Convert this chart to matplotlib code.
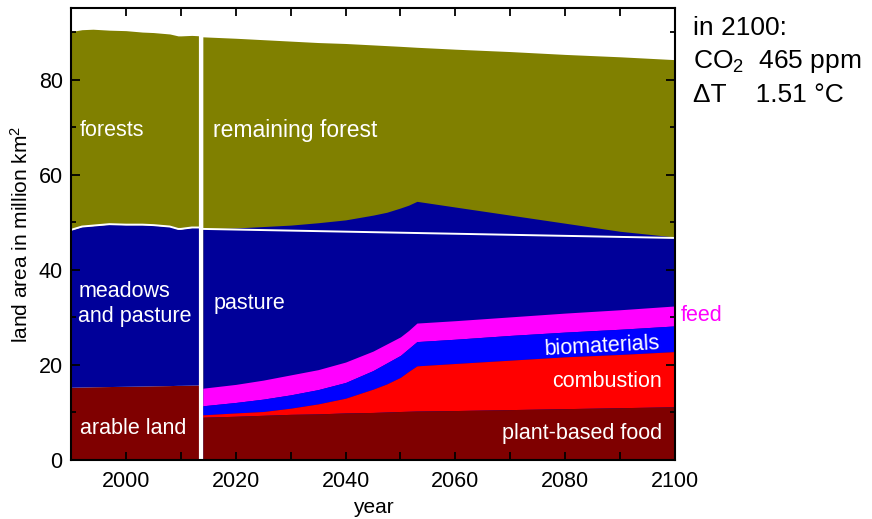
import matplotlib
matplotlib.use("Agg")
import numpy as np
import matplotlib.pyplot as plt

plt.rcParams["font.family"] = ["Liberation Sans", "DejaVu Sans"]
plt.rcParams["mathtext.fontset"] = "custom"
plt.rcParams["mathtext.rm"] = "Liberation Sans"
plt.rcParams["mathtext.it"] = "Liberation Sans:italic"

# -----------------------------
# Data (million km2)
# -----------------------------

# historical period, up to the white vertical divider
hist_years = [1990, 1992, 1994, 1997, 2000, 2003, 2005, 2008, 2009.5, 2010, 2012, 2013.7]
hist_arable = [15.3, 15.35, 15.4, 15.45, 15.5, 15.55, 15.6, 15.65, 15.7, 15.7, 15.75, 15.8]
hist_meadows_top = [48.4, 49.1, 49.3, 49.6, 49.5, 49.5, 49.4, 49.1, 48.6, 48.6, 48.9, 48.9]
hist_total = [90.1, 90.5, 90.6, 90.4, 90.3, 90.0, 89.9, 89.6, 89.2, 89.2, 89.3, 89.2]

# scenario period
fut_years = [2014, 2020, 2025, 2030, 2035, 2040, 2045, 2047.5, 2050, 2051.5, 2053,
             2060, 2070, 2080, 2090, 2100]
plant_food = [9.0, 9.2, 9.4, 9.6, 9.7, 9.9, 10.0, 10.1, 10.2, 10.25, 10.3,
              10.4, 10.6, 10.8, 11.0, 11.2]
combustion = [0.5, 0.7, 0.8, 1.3, 2.1, 3.1, 4.9, 5.9, 7.2, 8.4, 9.5,
              9.9, 10.4, 10.9, 11.2, 11.6]
biomaterials = [1.9, 2.2, 2.6, 2.8, 3.0, 3.3, 3.9, 4.4, 4.6, 4.8, 5.1,
                5.1, 5.2, 5.2, 5.3, 5.4]
feed = [3.7, 3.8, 4.0, 4.2, 4.2, 4.3, 4.1, 4.0, 3.9, 3.8, 3.9,
        3.9, 3.9, 4.0, 4.1, 4.2]
pasture_top = [48.6, 48.8, 49.1, 49.4, 49.9, 50.5, 51.5, 52.1, 53.0, 53.6, 54.4,
               53.2, 51.5, 49.8, 48.1, 46.9]
fut_total = [89.0, 88.7, 88.4, 88.1, 87.8, 87.6, 87.3, 87.15, 87.0, 86.9, 86.8,
             86.4, 85.9, 85.3, 84.8, 84.2]

# white boundary line (original pasture extent) in the scenario
boundary_years = [2014, 2100]
boundary_vals = [48.6, 46.7]

divider_year = 2013.7

C_FOOD = "#7f0000"
C_COMB = "#ff0000"
C_BIO = "#0000ff"
C_FEED = "#ff00ff"
C_PAST = "#000099"
C_FOREST = "#808000"

# -----------------------------
# Plot
# -----------------------------

fig = plt.figure(figsize=(8.72, 5.19), dpi=100)
ax = fig.add_axes([71 / 872, 1 - 460 / 519, 604 / 872, 451.7 / 519])

hy = np.array(hist_years)
ax.fill_between(hy, 0, hist_arable, color=C_FOOD, lw=0)
ax.fill_between(hy, hist_arable, hist_meadows_top, color=C_PAST, lw=0)
ax.fill_between(hy, hist_meadows_top, hist_total, color=C_FOREST, lw=0)
ax.plot(hy, hist_meadows_top, color="white", lw=1.4)

fy = np.array(fut_years)
l1 = np.array(plant_food)
l2 = l1 + np.array(combustion)
l3 = l2 + np.array(biomaterials)
l4 = l3 + np.array(feed)
ax.fill_between(fy, 0, fut_total, color=C_FOREST, lw=0)
ax.fill_between(fy, 0, pasture_top, color=C_PAST, lw=0)
ax.fill_between(fy, l3, l4, color=C_FEED, lw=0)
ax.fill_between(fy, l2, l3, color=C_BIO, lw=0)
ax.fill_between(fy, l1, l2, color=C_COMB, lw=0)
ax.fill_between(fy, 0, l1, color=C_FOOD, lw=0)
ax.plot(boundary_years, boundary_vals, color="white", lw=1.4)

ax.axvline(divider_year, color="white", lw=3)

ax.set_xlim(1990, 2100)
ax.set_ylim(0, 95)
ax.set_xticks(np.arange(2000, 2101, 20))
ax.set_xticks(np.arange(1990, 2101, 10), minor=True)
ax.set_yticks(np.arange(0, 81, 20))
ax.set_yticks(np.arange(10, 95, 10), minor=True)
ax.tick_params(which="both", direction="in", top=True, right=True,
               labelsize=15.5, width=1.3, colors="black")
ax.tick_params(axis="x", which="major", length=6, pad=8)
ax.tick_params(axis="x", which="minor", length=6)
ax.tick_params(axis="y", which="major", length=6.5, pad=6)
ax.tick_params(axis="y", which="minor", length=3.5)
for s in ax.spines.values():
    s.set_linewidth(1.5)

ax.set_xlabel("year", fontsize=15, labelpad=4)
ax.set_ylabel("land area in million km$^2$", fontsize=15, labelpad=5)

# in-area labels
lab = dict(color="white", fontsize=15.5, va="center")
ax.text(1991.6, 69.3, "forests", ha="left", **lab)
ax.text(2015.9, 69.3, "remaining forest", ha="left", **dict(lab, fontsize=16.5))
ax.text(1991.3, 32.8, "meadows\nand pasture", ha="left", linespacing=1.3, **lab)
ax.text(2015.9, 33.0, "pasture", ha="left", **lab)
ax.text(1991.6, 6.7, "arable land", ha="left", **lab)
ax.text(2097.6, 5.6, "plant-based food", ha="right", **lab)
ax.text(2097.6, 16.6, "combustion", ha="right", **lab)
ax.text(2097.3, 24.6, "biomaterials", ha="right", rotation=3, rotation_mode="anchor", **lab)
ax.text(2101.0, 30.3, "feed", ha="left", va="center", color=C_FEED,
        fontsize=15.5, clip_on=False)

# scenario summary
fig.text(0.795, 0.946, "in 2100:", fontsize=19, va="center")
fig.text(0.795, 0.881, "CO$_2$  465 ppm", fontsize=19, va="center")
fig.text(0.795, 0.817, "\u0394T    1.51 \u00b0C", fontsize=19, va="center")

fig.savefig("out.png", dpi=100)
